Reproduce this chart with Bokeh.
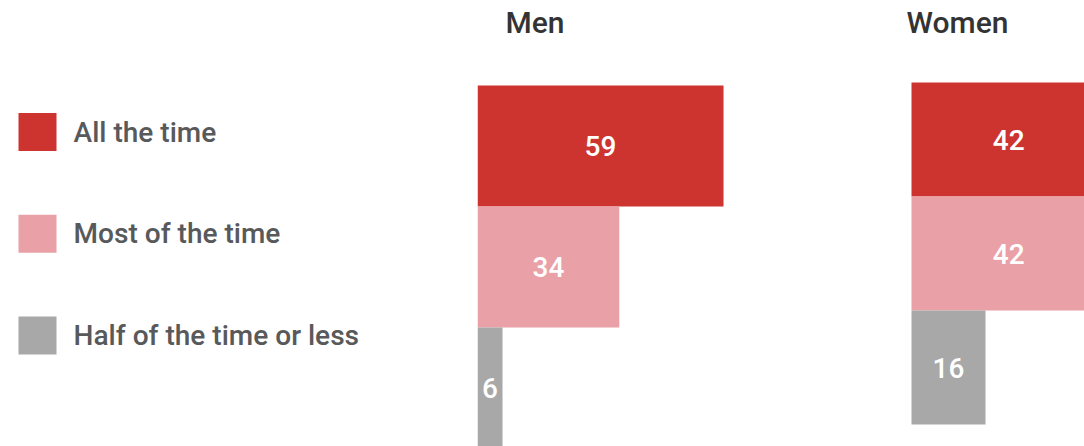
from bokeh.plotting import figure
from bokeh.layouts import row
from bokeh.models import Range1d, ColumnDataSource
from bokeh.core.properties import value
from bokeh.embed import file_html
from bokeh.resources import INLINE

categories = ["All the time", "Most of the time", "Half of the time or less"]
men_values = [59, 34, 6]
women_values = [42, 42, 16]
panel_titles = ["Men", "Women"]
colors = ["#CD3430", "#E9A0A6", "#A8A8A8"]

FONT = "Roboto Medium, Roboto"
H = 446


def base_fig(width, x_range, y_range):
    p = figure(width=width, height=H, x_range=x_range, y_range=y_range,
               output_backend="svg", toolbar_location=None, min_border=0)
    p.axis.visible = False
    p.grid.visible = False
    p.outline_line_color = None
    p.background_fill_color = None
    p.border_fill_color = None
    return p


# ---- legend panel ----
LW = 477
leg = base_fig(LW, Range1d(0, LW), Range1d(H, 0))
first_y, pitch = 131.5, 101.75
ys = [first_y + i * pitch for i in range(len(categories))]
lsrc = ColumnDataSource(dict(y=ys, label=categories, color=colors))
leg.rect(x=37, y="y", width=38, height=38, width_units="screen", height_units="screen",
         fill_color="color", line_color=None, source=lsrc)
leg.text(x=73, y="y", text="label", source=lsrc, text_font=value(FONT),
         text_font_size="28px", text_color="#58595B", text_baseline="middle",
         text_align="left")


def panel(width, bar_left_px, px_per_unit, top_px, row_h, vals, title, title_left_px, title_mid_px):
    xr = Range1d(-bar_left_px / px_per_unit, (width - bar_left_px) / px_per_unit)
    yr = Range1d((H - top_px) / row_h, -top_px / row_h)
    p = base_fig(width, xr, yr)
    src = ColumnDataSource(dict(
        y=[i + 0.5 for i in range(len(vals))],
        v=vals,
        mid=[v / 2 for v in vals],
        lbl=[str(v) for v in vals],
        color=colors,
    ))
    p.hbar(y="y", height=1, left=0, right="v", fill_color="color", line_color=None, source=src)
    p.text(x="mid", y="y", text="lbl", source=src, text_font=value(FONT),
           text_font_size="28px", text_color="white", text_align="center",
           text_baseline="middle")
    p.text(x=[(title_left_px - bar_left_px) / px_per_unit],
           y=[(title_mid_px - top_px) / row_h], text=[title],
           text_font=value(FONT), text_font_size="30px", text_color="#333333",
           text_align="left", text_baseline="middle")
    return p


men = panel(413, 0, 4.17, 85, 121, men_values, panel_titles[0], 28, 22)
women = panel(194, 21, 4.625, 82, 114, women_values, panel_titles[1], 16, 22)

layout = row(leg, men, women, spacing=0)
open("out.html", "w").write(file_html(layout, INLINE))
